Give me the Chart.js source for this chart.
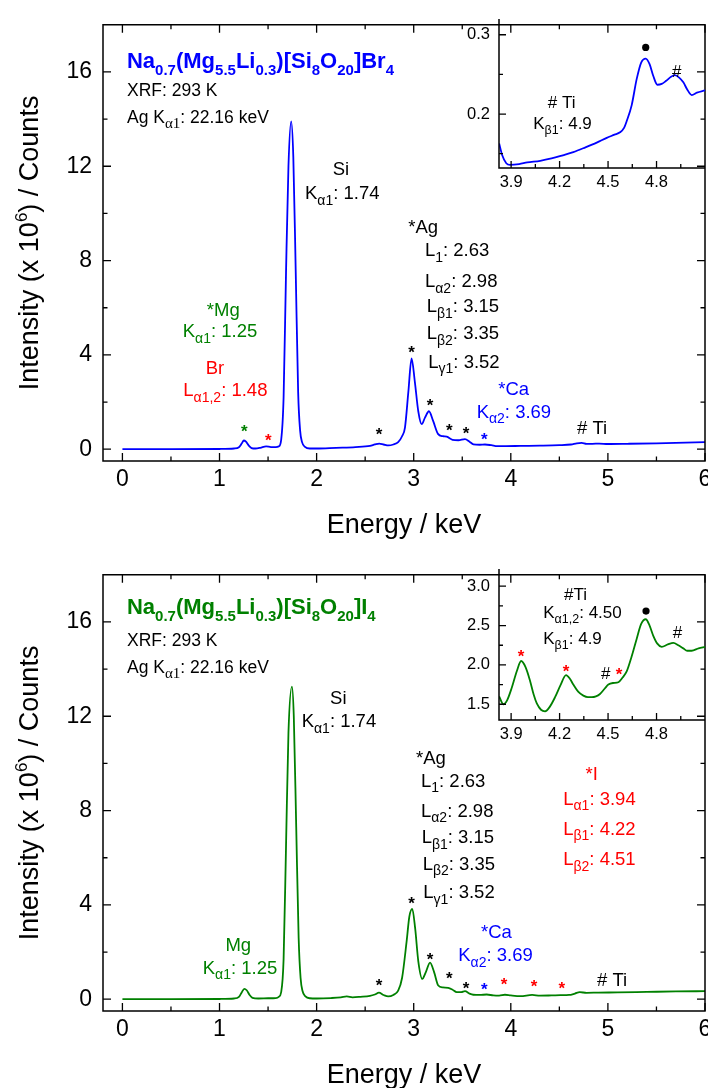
<!DOCTYPE html>
<html>
<head>
<meta charset="utf-8">
<script src="https://cdn.jsdelivr.net/npm/chart.js@4.4.0/dist/chart.umd.min.js"></script>
<style>
  body { margin: 0; background: #fff; }
  #wrap { position: relative; width: 708px; height: 1088px; overflow: hidden; background: #fff; }
  canvas { position: absolute; }
</style>
</head>
<body>
<div id="wrap">
  <canvas id="mainBr" width="720" height="550" style="left:0px;top:0px"></canvas>
  <canvas id="insetBr" width="280" height="200" style="left:440px;top:0px"></canvas>
  <canvas id="mainI" width="720" height="538" style="left:0px;top:550px"></canvas>
  <canvas id="insetI" width="280" height="200" style="left:440px;top:550px"></canvas>
</div>
<script>
// ---- data ----
// top panel: Na0.7(Mg5.5Li0.3)[Si8O20]Br4, intensity in 10^6 counts
const energyBr = [0, 0.5, 1.0, 1.15, 1.2, 1.23, 1.25, 1.27, 1.3, 1.33, 1.37, 1.42, 1.48, 1.53, 1.58, 1.61, 1.635, 1.66, 1.685, 1.71,
  1.738, 1.76, 1.785, 1.81, 1.83, 1.85, 1.88, 1.93, 2.0, 2.2, 2.4, 2.55, 2.6, 2.645, 2.69, 2.74, 2.79, 2.84, 2.88, 2.91,
  2.945, 2.978, 3.012, 3.047, 3.082, 3.116, 3.157, 3.2, 3.25, 3.3, 3.34, 3.4, 3.46, 3.528, 3.575, 3.615, 3.68, 3.734, 3.8, 3.86,
  3.95, 4.1, 4.3, 4.5, 4.62, 4.68, 4.73, 4.78, 4.84, 4.91, 5.0, 5.2, 5.5, 5.8, 6.0];
const countsBr = [0, 0, 0.01, 0.03, 0.08, 0.25, 0.37, 0.33, 0.16, 0.05, 0.03, 0.06, 0.12, 0.09, 0.09, 0.12, 0.4, 2.2, 7.5, 12.0,
  13.9, 12.4, 7.5, 2.4, 0.8, 0.3, 0.1, 0.03, 0.03, 0.06, 0.09, 0.14, 0.2, 0.24, 0.2, 0.16, 0.2, 0.3, 0.55, 0.92,
  2.44, 3.85, 2.85, 1.61, 1.06, 1.34, 1.61, 1.2, 0.65, 0.55, 0.53, 0.4, 0.38, 0.43, 0.32, 0.21, 0.19, 0.2, 0.17, 0.13,
  0.13, 0.14, 0.15, 0.17, 0.2, 0.25, 0.27, 0.23, 0.23, 0.24, 0.22, 0.23, 0.25, 0.28, 0.3];

// bottom panel: Na0.7(Mg5.5Li0.3)[Si8O20]I4
const energyI = [0, 0.5, 1.0, 1.15, 1.2, 1.23, 1.255, 1.28, 1.31, 1.34, 1.4, 1.5, 1.58, 1.61, 1.635, 1.66, 1.685, 1.71, 1.746, 1.765,
  1.79, 1.815, 1.835, 1.855, 1.885, 1.93, 2.0, 2.15, 2.25, 2.31, 2.37, 2.45, 2.55, 2.6, 2.642, 2.69, 2.737, 2.79, 2.84, 2.88,
  2.927, 2.955, 2.985, 3.015, 3.047, 3.088, 3.125, 3.168, 3.21, 3.253, 3.3, 3.356, 3.4, 3.443, 3.49, 3.528, 3.575, 3.614, 3.68, 3.752,
  3.82, 3.88, 3.94, 4.0, 4.1, 4.22, 4.3, 4.42, 4.51, 4.6, 4.66, 4.71, 4.78, 4.9, 5.1, 5.4, 5.7, 6.0];
const countsI = [0, 0, 0.01, 0.03, 0.1, 0.3, 0.44, 0.38, 0.18, 0.06, 0.03, 0.04, 0.05, 0.1, 0.3, 1.7, 6.5, 11.3, 13.26, 12.0,
  7.3, 2.6, 0.9, 0.35, 0.12, 0.04, 0.03, 0.05, 0.08, 0.12, 0.08, 0.1, 0.14, 0.2, 0.28, 0.18, 0.12, 0.18, 0.36, 0.9,
  2.45, 3.5, 3.83, 3.0, 1.62, 0.86, 1.15, 1.55, 1.15, 0.58, 0.5, 0.48, 0.4, 0.3, 0.3, 0.34, 0.24, 0.19, 0.18, 0.2,
  0.16, 0.15, 0.19, 0.16, 0.13, 0.18, 0.15, 0.16, 0.17, 0.18, 0.24, 0.3, 0.27, 0.28, 0.29, 0.31, 0.33, 0.34];

// insets (zoom 3.8 - 5.1 keV)
const insetEnergyBr = [3.826, 3.845, 3.87, 3.893, 3.95, 4.0, 4.08, 4.15, 4.22, 4.285, 4.36, 4.43, 4.492, 4.54, 4.574, 4.6, 4.615,
  4.646, 4.677, 4.705, 4.733, 4.757, 4.78, 4.805, 4.832, 4.86, 4.89, 4.914, 4.94, 4.966, 4.99, 5.018, 5.05, 5.1];
const insetCountsBr = [0.163, 0.148, 0.138, 0.136, 0.137, 0.139, 0.141, 0.144, 0.148, 0.152, 0.158, 0.164, 0.170, 0.174, 0.177, 0.183, 0.191,
  0.211, 0.244, 0.265, 0.270, 0.263, 0.248, 0.237, 0.238, 0.242, 0.247, 0.249, 0.246, 0.240, 0.231, 0.224, 0.227, 0.230];
const insetEnergyI = [3.826, 3.852, 3.875, 3.904, 3.935, 3.962, 3.99, 4.017, 4.04, 4.059, 4.085, 4.11, 4.14, 4.172, 4.205, 4.24, 4.265,
  4.285, 4.315, 4.347, 4.375, 4.399, 4.425, 4.45, 4.48, 4.502, 4.53, 4.564, 4.59, 4.616, 4.645, 4.677, 4.705, 4.733, 4.757, 4.78,
  4.805, 4.832, 4.87, 4.904, 4.935, 4.966, 4.99, 5.017, 5.06, 5.1];
const insetCountsI = [1.60, 1.50, 1.55, 1.71, 1.92, 2.05, 1.97, 1.80, 1.62, 1.51, 1.43, 1.41, 1.47, 1.59, 1.74, 1.87, 1.82,
  1.75, 1.66, 1.61, 1.59, 1.59, 1.60, 1.63, 1.70, 1.75, 1.77, 1.78, 1.84, 1.92, 2.10, 2.33, 2.52, 2.58, 2.50, 2.37,
  2.27, 2.23, 2.26, 2.28, 2.25, 2.21, 2.18, 2.18, 2.21, 2.23];

// tick labels
const xTicks = [0, 1, 2, 3, 4, 5, 6];
const xMinor = [0.5, 1.5, 2.5, 3.5, 4.5, 5.5];
const yTicks = [0, 4, 8, 12, 16];
const yMinor = [2, 6, 10, 14];
const insetXTicks = [3.9, 4.2, 4.5, 4.8];
const insetXMinor = [4.05, 4.35, 4.65, 4.95];
const insetYTicksBr = [0.2, 0.3];
const insetYMinorBr = [0.15, 0.25];
const insetYTicksI = [1.5, 2.0, 2.5, 3.0];
const insetYMinorI = [1.75, 2.25, 2.75];

const FONT = 'Arial, "Liberation Sans", sans-serif';
const SERIF = '"Liberation Serif", "Times New Roman", serif';
const BLUE = '#0000ff', GREEN = '#008000', RED = '#ff0000', BLACK = '#000000';

// ---- labels (placed in data coordinates) ----
const notesBr = [
  { t: 'Na_{0.7}(Mg_{5.5}Li_{0.3})[Si_{8}O_{20}]Br_{4}', x: 0.047, y: 16.16, c: BLUE, size: 22, sub: 15, bold: true },
  { t: 'XRF: 293 K', x: 0.047, y: 14.98, size: 17.5 },
  { t: 'Ag K_{α1}: 22.16 keV', x: 0.047, y: 13.85, size: 17.5, sub: 15, subFamily: SERIF },
  { t: 'Si', x: 2.251, y: 11.64, align: 'center' },
  { t: 'K_{α1}: 1.74', x: 1.880, y: 10.60 },
  { t: '*Ag', x: 2.944, y: 9.15 },
  { t: 'L_{1}: 2.63', x: 3.116, y: 8.18 },
  { t: 'L_{α2}: 2.98', x: 3.116, y: 6.87 },
  { t: 'L_{β1}: 3.15', x: 3.134, y: 5.80 },
  { t: 'L_{β2}: 3.35', x: 3.134, y: 4.66 },
  { t: 'L_{γ1}: 3.52', x: 3.150, y: 3.45 },
  { t: '*Mg', x: 1.039, y: 5.67, align: 'center', c: GREEN },
  { t: 'K_{α1}: 1.25', x: 0.621, y: 4.76, c: GREEN },
  { t: 'Br', x: 0.953, y: 3.20, align: 'center', c: RED },
  { t: 'L_{α1,2}: 1.48', x: 0.627, y: 2.24, c: RED },
  { t: '*Ca', x: 3.871, y: 2.31, c: BLUE },
  { t: 'K_{α2}: 3.69', x: 3.648, y: 1.34, c: BLUE },
  { t: '# Ti', x: 4.682, y: 0.66 },
  { kind: 'star', x: 1.255, y: 0.87, c: GREEN },
  { kind: 'star', x: 1.502, y: 0.51, c: RED },
  { kind: 'star', x: 2.642, y: 0.74 },
  { kind: 'star', x: 2.979, y: 4.24 },
  { kind: 'star', x: 3.168, y: 1.96 },
  { kind: 'star', x: 3.366, y: 0.90 },
  { kind: 'star', x: 3.538, y: 0.79 },
  { kind: 'star', x: 3.727, y: 0.54, c: BLUE }
];
const notesI = [
  { t: 'Na_{0.7}(Mg_{5.5}Li_{0.3})[Si_{8}O_{20}]I_{4}', x: 0.047, y: 16.34, c: GREEN, size: 22, sub: 15, bold: true },
  { t: 'XRF: 293 K', x: 0.047, y: 14.96, size: 17.5 },
  { t: 'Ag K_{α1}: 22.16 keV', x: 0.047, y: 13.85, size: 17.5, sub: 15, subFamily: SERIF },
  { t: 'Si', x: 2.223, y: 12.54, align: 'center' },
  { t: 'K_{α1}: 1.74', x: 1.846, y: 11.53 },
  { t: '*Ag', x: 3.024, y: 9.98 },
  { t: 'L_{1}: 2.63', x: 3.075, y: 9.01 },
  { t: 'L_{α2}: 2.98', x: 3.075, y: 7.74 },
  { t: 'L_{β1}: 3.15', x: 3.082, y: 6.62 },
  { t: 'L_{β2}: 3.35', x: 3.092, y: 5.49 },
  { t: 'L_{γ1}: 3.52', x: 3.099, y: 4.28 },
  { t: 'Mg', x: 1.193, y: 2.06, align: 'center', c: GREEN },
  { t: 'K_{α1}: 1.25', x: 0.827, y: 1.09, c: GREEN },
  { t: '*Ca', x: 3.693, y: 2.61, c: BLUE },
  { t: 'K_{α2}: 3.69', x: 3.459, y: 1.62, c: BLUE },
  { t: '*I', x: 4.833, y: 9.29, align: 'center', c: RED },
  { t: 'L_{α1}: 3.94', x: 4.540, y: 8.25, c: RED },
  { t: 'L_{β1}: 4.22', x: 4.540, y: 6.98, c: RED },
  { t: 'L_{β2}: 4.51', x: 4.540, y: 5.69, c: RED },
  { t: '# Ti', x: 4.888, y: 0.58 },
  { kind: 'star', x: 2.642, y: 0.715 },
  { kind: 'star', x: 2.979, y: 4.17 },
  { kind: 'star', x: 3.168, y: 1.82 },
  { kind: 'star', x: 3.366, y: 1.02 },
  { kind: 'star', x: 3.538, y: 0.58 },
  { kind: 'star', x: 3.727, y: 0.54, c: BLUE },
  { kind: 'star', x: 3.930, y: 0.76, c: RED },
  { kind: 'star', x: 4.239, y: 0.65, c: RED },
  { kind: 'star', x: 4.524, y: 0.58, c: RED }
];
const insetNotesBr = [
  { kind: 'dot', x: 4.733, y: 0.284 },
  { kind: 'hash', x: 4.925, y: 0.254 },
  { t: '# Ti', x: 4.213, y: 0.2073, align: 'center', size: 17, sub: 12.5 },
  { t: 'K_{β1}: 4.9', x: 4.037, y: 0.1808, size: 17, sub: 12.5 }
];
const insetNotesI = [
  { t: '#Ti', x: 4.227, y: 2.827, size: 17, sub: 12.5 },
  { t: 'K_{α1,2}: 4.50', x: 4.099, y: 2.60, size: 17, sub: 12.5 },
  { t: 'K_{β1}: 4.9', x: 4.099, y: 2.27, size: 17, sub: 12.5 },
  { kind: 'dot', x: 4.735, y: 2.684 },
  { kind: 'hash', x: 4.929, y: 2.424 },
  { kind: 'star', x: 3.961, y: 2.146, c: RED },
  { kind: 'star', x: 4.240, y: 1.960, c: RED },
  { kind: 'hash', x: 4.485, y: 1.898 },
  { kind: 'star', x: 4.568, y: 1.919, c: RED }
];

// ---- text with _{sub} and ^{sup} ----
function parseRich(s) {
  const out = [], re = /([_^])\{([^}]*)\}/g;
  let last = 0, m;
  while ((m = re.exec(s))) {
    if (m.index > last) out.push({ t: s.slice(last, m.index), k: 'n' });
    out.push({ t: m[2], k: m[1] === '_' ? 'sub' : 'sup' });
    last = re.lastIndex;
  }
  if (last < s.length) out.push({ t: s.slice(last), k: 'n' });
  return out;
}
function drawRich(ctx, s, x, y, o) {
  const size = o.size || 18.5, sub = o.sub || 14, w0 = o.bold ? 'bold ' : '';
  const fMain = w0 + size + 'px ' + FONT;
  const fSub = w0 + sub + 'px ' + (o.subFamily || FONT);
  const segs = parseRich(s);
  let w = 0;
  segs.forEach(g => { ctx.font = g.k === 'n' ? fMain : fSub; g.w = ctx.measureText(g.t).width; w += g.w; });
  let cx = o.align === 'center' ? x - w / 2 : x;
  ctx.fillStyle = o.c || BLACK;
  ctx.textAlign = 'left';
  ctx.textBaseline = 'alphabetic';
  segs.forEach(g => {
    ctx.font = g.k === 'n' ? fMain : fSub;
    const dy = g.k === 'sub' ? size * 0.3 : g.k === 'sup' ? -size * 0.4 : 0;
    ctx.fillText(g.t, cx, y + dy);
    cx += g.w;
  });
}
function drawCentered(ctx, ch, x, y, font, color) {
  ctx.font = font;
  ctx.fillStyle = color;
  ctx.textAlign = 'center';
  ctx.textBaseline = 'alphabetic';
  const m = ctx.measureText(ch);
  ctx.fillText(ch, x, y + (m.actualBoundingBoxAscent - m.actualBoundingBoxDescent) / 2);
}

// frame, inward ticks, axis titles and labels
const deco = {
  id: 'deco',
  afterDraw(chart, args, o) {
    const { ctx, chartArea: a } = chart;
    const sx = chart.scales.x, sy = chart.scales.y;
    ctx.save();

    o.notes.forEach(n => {
      const px = sx.getPixelForValue(n.x), py = sy.getPixelForValue(n.y);
      if (n.kind === 'star') drawCentered(ctx, '*', px, py, 'bold 17px ' + FONT, n.c || BLACK);
      else if (n.kind === 'hash') drawCentered(ctx, '#', px, py, '17px ' + FONT, n.c || BLACK);
      else if (n.kind === 'dot') {
        ctx.fillStyle = BLACK;
        ctx.beginPath(); ctx.arc(px, py, 3.6, 0, Math.PI * 2); ctx.fill();
      } else drawRich(ctx, n.t, px, py, n);
    });

    ctx.strokeStyle = BLACK;
    ctx.lineWidth = 1.5;
    ctx.beginPath();
    if (o.box) ctx.rect(a.left, a.top, a.right - a.left, a.bottom - a.top);
    else { ctx.moveTo(a.left, a.top); ctx.lineTo(a.left, a.bottom); ctx.lineTo(a.right, a.bottom); }
    ctx.stroke();

    ctx.lineWidth = 1.3;
    ctx.beginPath();
    const xt = (vals, len) => vals.forEach(v => {
      const p = sx.getPixelForValue(v);
      ctx.moveTo(p, a.bottom); ctx.lineTo(p, a.bottom - len);
      if (o.box) { ctx.moveTo(p, a.top); ctx.lineTo(p, a.top + len); }
    });
    const yt = (vals, len) => vals.forEach(v => {
      const p = sy.getPixelForValue(v);
      ctx.moveTo(a.left, p); ctx.lineTo(a.left + len, p);
      if (o.box) { ctx.moveTo(a.right, p); ctx.lineTo(a.right - len, p); }
    });
    xt(sx.ticks.map(t => t.value), o.major); xt(o.xMinor, o.minor);
    yt(sy.ticks.map(t => t.value), o.major); yt(o.yMinor, o.minor);
    ctx.stroke();

    if (o.xTitle) drawRich(ctx, o.xTitle, (a.left + a.right) / 2, a.bottom + o.xTitleOffset, { size: 27, align: 'center' });
    if (o.yTitle) {
      ctx.save();
      ctx.translate(o.yTitleX, (a.top + a.bottom) / 2);
      ctx.rotate(-Math.PI / 2);
      drawRich(ctx, o.yTitle, 0, 0, { size: 27, sub: 17, align: 'center' });
      ctx.restore();
    }
    ctx.restore();
  }
};

function makeChart(id, c) {
  return new Chart(document.getElementById(id), {
    type: 'line',
    data: {
      datasets: [{
        data: c.xs.map((x, i) => ({ x: x, y: c.ys[i] })),
        borderColor: c.color,
        borderWidth: 1.8,
        pointRadius: 0,
        fill: false,
        cubicInterpolationMode: 'monotone'
      }]
    },
    options: {
      responsive: false,
      animation: false,
      events: [],
      layout: { padding: { top: 15, right: 15, left: 0, bottom: 0 } },
      plugins: { legend: { display: false }, tooltip: { enabled: false }, deco: c.deco },
      scales: {
        x: {
          type: 'linear', min: c.xMin, max: c.xMax,
          grid: { display: false, drawTicks: false }, border: { display: false },
          ticks: {
            font: { family: FONT, size: c.tickSize }, color: BLACK, padding: c.xPad,
            maxRotation: 0, autoSkip: false, callback: c.fmtX
          },
          afterBuildTicks: s => { s.ticks = c.xTicks.map(v => ({ value: v })); },
          afterFit: s => { s.height = c.xH; }
        },
        y: {
          type: 'linear', min: c.yMin, max: c.yMax,
          grid: { display: false, drawTicks: false }, border: { display: false },
          ticks: {
            font: { family: FONT, size: c.tickSize }, color: BLACK, padding: c.yPad,
            autoSkip: false, callback: c.fmtY
          },
          afterBuildTicks: s => { s.ticks = c.yTicks.map(v => ({ value: v })); },
          afterFit: s => { s.width = c.yW; }
        }
      }
    },
    plugins: [deco]
  });
}

const mainBase = {
  xMin: -0.2, xMax: 6, yMin: -0.5, yMax: 18, xTicks: xTicks, yTicks: yTicks,
  tickSize: 23, xPad: 5, yPad: 11, yW: 103,
  fmtX: v => String(v), fmtY: v => String(v)
};
const insetBase = {
  xMin: 3.825, xMax: 5.1, xTicks: insetXTicks,
  tickSize: 16.5, xPad: 5, yPad: 9, yW: 59,
  fmtX: v => v.toFixed(1), fmtY: v => v.toFixed(1)
};

makeChart('mainBr', Object.assign({}, mainBase, {
  xs: energyBr, ys: countsBr, color: BLUE, xH: 89,
  deco: { box: true, major: 8, minor: 4.5, xMinor: xMinor, yMinor: yMinor, notes: notesBr,
    xTitle: 'Energy / keV', xTitleOffset: 72, yTitle: 'Intensity (x 10^{6}) / Counts', yTitleX: 38 }
}));
makeChart('mainI', Object.assign({}, mainBase, {
  xs: energyI, ys: countsI, color: GREEN, xH: 77,
  deco: { box: true, major: 8, minor: 4.5, xMinor: xMinor, yMinor: yMinor, notes: notesI,
    xTitle: 'Energy / keV', xTitleOffset: 72, yTitle: 'Intensity (x 10^{6}) / Counts', yTitleX: 38 }
}));
makeChart('insetBr', Object.assign({}, insetBase, {
  xs: insetEnergyBr, ys: insetCountsBr, color: BLUE, xH: 32,
  yMin: 0.132, yMax: 0.32, yTicks: insetYTicksBr,
  deco: { box: false, major: 7, minor: 4, xMinor: insetXMinor, yMinor: insetYMinorBr, notes: insetNotesBr }
}));
makeChart('insetI', Object.assign({}, insetBase, {
  xs: insetEnergyI, ys: insetCountsI, color: GREEN, xH: 30,
  yMin: 1.3, yMax: 3.22, yTicks: insetYTicksI,
  deco: { box: false, major: 7, minor: 4, xMinor: insetXMinor, yMinor: insetYMinorI, notes: insetNotesI }
}));
</script>
</body>
</html>
